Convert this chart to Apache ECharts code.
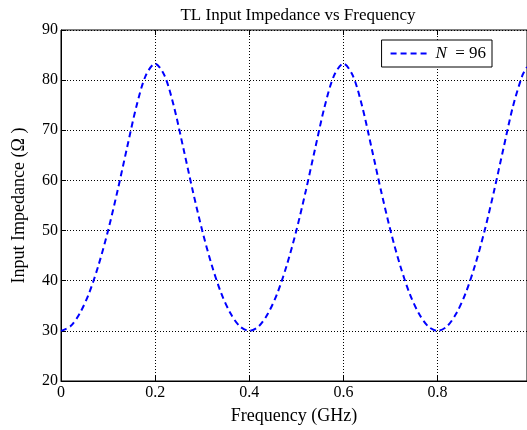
<!DOCTYPE html>
<html>
<head>
<meta charset="utf-8">
<script src="https://cdn.jsdelivr.net/npm/echarts@6/dist/echarts.min.js"></script>
<style>
  html, body { margin: 0; padding: 0; background: #fff; }
  #main { width: 527px; height: 430px; }
</style>
</head>
<body>
<div id="main"></div>
<script>
// frequency points (GHz) and input impedance magnitude (ohm)
var freq = [0, 0.02, 0.04, 0.06, 0.08, 0.10, 0.12, 0.14, 0.16, 0.18,
  0.20, 0.22, 0.24, 0.26, 0.28, 0.30, 0.32, 0.34, 0.36, 0.38,
  0.40, 0.42, 0.44, 0.46, 0.48, 0.50, 0.52, 0.54, 0.56, 0.58,
  0.60, 0.62, 0.64, 0.66, 0.68, 0.70, 0.72, 0.74, 0.76, 0.78,
  0.80, 0.82, 0.84, 0.86, 0.88, 0.90, 0.92, 0.94, 0.96, 0.98, 0.99];
var zin = [30.0, 30.9, 33.5, 37.6, 43.2, 50.0, 57.9, 66.4, 74.7, 80.9,
  83.3, 80.9, 74.7, 66.4, 57.9, 50.0, 43.2, 37.6, 33.5, 30.9,
  30.0, 30.9, 33.5, 37.6, 43.2, 50.0, 57.9, 66.4, 74.7, 80.9,
  83.3, 80.9, 74.7, 66.4, 57.9, 50.0, 43.2, 37.6, 33.5, 30.9,
  30.0, 30.9, 33.5, 37.6, 43.2, 50.0, 57.9, 66.4, 74.7, 80.9, 82.6];
var xTicks = [0, 0.2, 0.4, 0.6, 0.8];
var yTicks = [20, 30, 40, 50, 60, 70, 80, 90];
var seriesName = 'N = 96';

var font = '"Liberation Serif", "Times New Roman", serif';
var chart = echarts.init(document.getElementById('main'));

var pts = [];
for (var i = 0; i < freq.length; i++) pts.push([freq[i], zin[i]]);

var gridLine = { show: true, lineStyle: { color: '#000', type: [1, 2], width: 1 } };

var option = {
  animation: false,
  backgroundColor: '#fff',
  title: {
    text: 'TL Input Impedance vs Frequency',
    left: 293, top: 2, textAlign: 'center',
    textStyle: { fontFamily: font, fontSize: 17, fontWeight: 'normal', color: '#000' }
  },
  legend: {
    right: 35, top: 40,
    orient: 'vertical',
    backgroundColor: '#fff',
    borderColor: '#000', borderWidth: 1, borderRadius: 0,
    padding: [5, 6, 5, 8],
    itemWidth: 40, itemHeight: 14,
    itemGap: 4,
    data: [seriesName],
    itemStyle: { opacity: 0 },
    formatter: function () { return '{i|N} {s|=} 96'; },
    textStyle: {
      fontFamily: font, fontSize: 17, color: '#000',
      rich: {
        i: { fontFamily: font, fontSize: 17, fontStyle: 'italic', color: '#000' },
        s: { fontFamily: font, fontSize: 17, color: '#000', padding: [0, 0, 0, 4] }
      }
    }
  },
  grid: { left: 61, right: 0, top: 30, bottom: 49, show: true, borderColor: '#000', borderWidth: 1 },
  xAxis: [{
    type: 'value', min: 0, max: 0.99, interval: 0.2,
    name: 'Frequency (GHz)', nameLocation: 'middle', nameGap: 26,
    nameTextStyle: { fontFamily: font, fontSize: 18, color: '#000' },
    axisLine: { show: true, lineStyle: { color: '#000' } },
    axisTick: { show: true, inside: true, length: 5, lineStyle: { color: '#000' } },
    axisLabel: {
      fontFamily: font, fontSize: 16, color: '#000', margin: 4,
      showMaxLabel: false,
      formatter: function (v) { return xTicks.indexOf(+v.toFixed(2)) >= 0 ? String(+v.toFixed(2)) : ''; }
    },
    splitLine: gridLine
  }, {
    type: 'value', position: 'top', min: 0, max: 0.99, interval: 0.2,
    axisLine: { show: false },
    axisTick: { show: true, inside: true, length: 5, lineStyle: { color: '#000' } },
    axisLabel: { show: false },
    splitLine: { show: false }
  }],
  yAxis: {
    type: 'value', min: yTicks[0], max: yTicks[yTicks.length - 1], interval: 10,
    name: 'Input Impedance (Ω )', nameLocation: 'middle', nameGap: 33,
    nameTextStyle: { fontFamily: font, fontSize: 18, color: '#000' },
    axisLine: { show: true, lineStyle: { color: '#000' } },
    axisTick: { show: true, inside: true, length: 5, lineStyle: { color: '#000' } },
    axisLabel: { fontFamily: font, fontSize: 16, color: '#000', margin: 3 },
    splitLine: gridLine
  },
  series: [{
    name: seriesName,
    type: 'line',
    xAxisIndex: 0,
    data: pts,
    smooth: 0.3,
    symbol: 'none',
    clip: true,
    lineStyle: { color: '#0000ff', width: 2, type: [6, 4] },
    itemStyle: { color: '#0000ff' }
  }]
};
chart.setOption(option);
</script>
</body>
</html>
